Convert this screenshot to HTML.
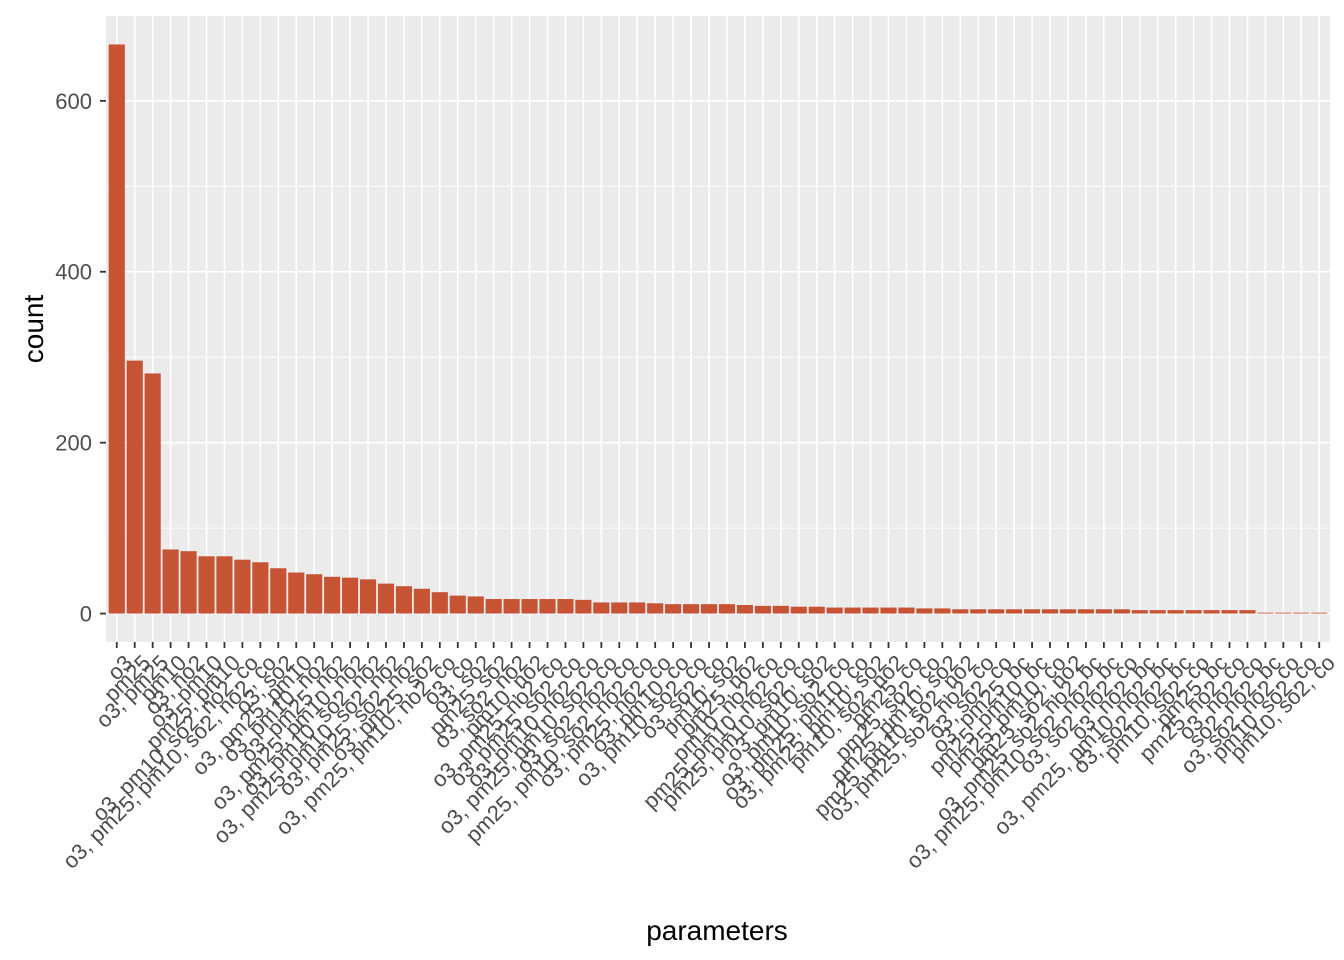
<!DOCTYPE html>
<html><head><meta charset="utf-8"><style>
body{margin:0;background:#fff;}
svg{display:block;font-family:"Liberation Sans",sans-serif;}
</style></head><body>
<svg id="chart" width="1344" height="960"></svg>
<script>
const categories = ["o3","pm25","o3, pm25","pm10","o3, no2","o3, pm10","pm25, pm10","o3, pm10, so2, no2, co","o3, pm25, pm10, so2, no2, co","o3, so2","o3, pm25, pm10","o3, pm10, no2","o3, pm25, no2","o3, pm25, pm10, no2","o3, pm10, so2, no2","o3, pm25, pm10, so2, no2","o3, pm25, so2, no2","o3, pm25, so2","o3, pm25, pm10, no2, co","o3, co","o3, so2","pm25, so2","o3, so2, no2","pm10, no2","o3, pm25, no2, co","o3, pm25, so2, co","o3, pm10, no2, co","o3, pm25, pm10, so2, co","o3, so2, no2, co","pm25, pm10, so2, no2, co","o3, pm25, no2, co","o3, pm10, co","o3, pm10, so2, co","o3, so2, co","pm10, so2","pm25, no2","pm10, no2, co","pm25, pm10, no2, co","pm25, pm10, so2, co","o3, pm10, so2","o3, pm10, so2, co","o3, pm25, pm10, co","o3, pm25, pm10, so2","pm10, so2, no2","pm25, co","pm25, so2, co","pm25, pm10, so2","pm25, pm10, so2, no2","o3, pm25, so2, no2, co","o3, so2, co","o3, pm25, bc","pm25, pm10, bc","pm25, pm10, co","pm25, so2, no2","o3, pm25, so2, no2, bc","o3, pm25, pm10, so2, no2, bc","o3, so2, no2, co","o3, no2, bc","o3, pm25, pm10, no2, bc","o3, so2, no2, bc","pm10, so2, co","pm25, bc","pm25, no2, co","o3, no2, co","so2, no2, bc","o3, so2, no2, co","pm10, so2, co","pm10, so2, co"];
const counts = [666,296,281,75,73,67,67,63,60,53,48,46,43,42,40,35,32,29,25,21,20,17,17,17,17,17,16,13,13,13,12,11,11,11,11,10,9,9,8,8,7,7,7,7,7,6,6,5,5,5,5,5,5,5,5,5,5,4,4,4,4,4,4,4,1,1,1,1];
const yTicks = [0,200,400,600];
const yMinor = [100,300,500];

const svg = document.getElementById('chart');
const NS = 'http://www.w3.org/2000/svg';
const P = {l:106, r:1330, t:16, b:642};
const yMax = Math.max(...counts);
const yLo = -0.05*yMax, yHi = 1.05*yMax;
const y = v => P.b - (v - yLo)/(yHi - yLo)*(P.b - P.t);
const n = categories.length;
const step = (P.r - P.l)/(n + 0.2);
const x = i => P.l + step*(0.6 + i);
function mk(tag, attrs, parent){const e=document.createElementNS(NS,tag);for(const k in attrs)e.setAttribute(k,attrs[k]);(parent||svg).appendChild(e);return e;}

const panel = mk('rect',{x:P.l,y:P.t,width:P.r-P.l,height:P.b-P.t,fill:'#ebebeb'});


yMinor.forEach(v=>{const g=mk('line',{x1:P.l,x2:P.r,y1:y(v),y2:y(v),stroke:'#fff','stroke-width':0.8});

});
yTicks.forEach(v=>{const g=mk('line',{x1:P.l,x2:P.r,y1:y(v),y2:y(v),stroke:'#fff','stroke-width':1.6});


const t=mk('line',{x1:P.l-6,x2:P.l,y1:y(v),y2:y(v),stroke:'#333','stroke-width':1.8});


const lb=mk('text',{x:P.l-14,y:y(v)+8,'text-anchor':'end','font-size':22,fill:'#4d4d4d'});lb.textContent=v;

});
categories.forEach((c,i)=>{const g=mk('line',{x1:x(i),x2:x(i),y1:P.t,y2:P.b,stroke:'#fff','stroke-width':1.6});

});
const bw = step*0.9;
counts.forEach((v,i)=>{const b=mk('rect',{x:x(i)-bw/2,y:y(v),width:bw,height:y(0)-y(v),fill:'#c75335'});

});
categories.forEach((c,i)=>{const t=mk('line',{x1:x(i),x2:x(i),y1:P.b,y2:P.b+6,stroke:'#333','stroke-width':1.8});


const lb=mk('text',{transform:`translate(${x(i)+6},${P.b+11}) rotate(-45)`,'text-anchor':'end','font-size':22,fill:'#4d4d4d',dy:'0.72em'});lb.textContent=c;

});
const yt=mk('text',{transform:'translate(43,329) rotate(-90)','text-anchor':'middle','font-size':28,fill:'#000'});yt.textContent='count';


const xt=mk('text',{x:717,y:940,'text-anchor':'middle','font-size':28,fill:'#000'});xt.textContent='parameters';


</script>
</body></html>
